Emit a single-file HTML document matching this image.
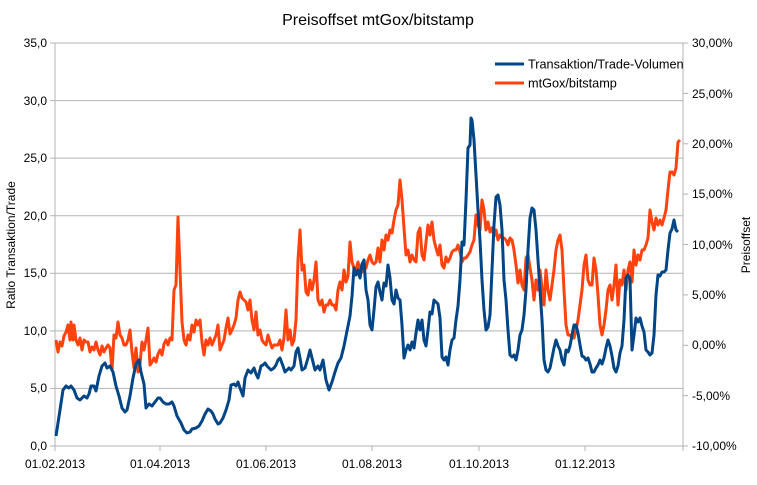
<!DOCTYPE html>
<html><head><meta charset="utf-8"><style>
body{margin:0;background:#fff}
svg text{font-family:"Liberation Sans",sans-serif;fill:#000}
</style></head><body>
<svg width="757" height="480" viewBox="0 0 757 480" xmlns="http://www.w3.org/2000/svg">
<rect width="757" height="480" fill="#fff"/>
<text x="378" y="25" font-size="16" text-anchor="middle">Preisoffset mtGox/bitstamp</text>
<g stroke="#b3b3b3" stroke-width="1">
<line x1="55" y1="43" x2="683" y2="43"/><line x1="55" y1="100.6" x2="683" y2="100.6"/>
<line x1="55" y1="158.1" x2="683" y2="158.1"/><line x1="55" y1="215.7" x2="683" y2="215.7"/>
<line x1="55" y1="273.3" x2="683" y2="273.3"/><line x1="55" y1="330.9" x2="683" y2="330.9"/>
<line x1="55" y1="388.4" x2="683" y2="388.4"/><line x1="55" y1="446" x2="683" y2="446"/>
<line x1="55" y1="43" x2="55" y2="451"/><line x1="683" y1="43" x2="683" y2="451"/>
<line x1="683" y1="43" x2="688" y2="43"/><line x1="683" y1="93.4" x2="688" y2="93.4"/><line x1="683" y1="143.8" x2="688" y2="143.8"/><line x1="683" y1="194.1" x2="688" y2="194.1"/><line x1="683" y1="244.5" x2="688" y2="244.5"/><line x1="683" y1="294.9" x2="688" y2="294.9"/><line x1="683" y1="345.3" x2="688" y2="345.3"/><line x1="683" y1="395.6" x2="688" y2="395.6"/><line x1="683" y1="446" x2="688" y2="446"/>
<line x1="50" y1="43" x2="55" y2="43"/><line x1="50" y1="100.6" x2="55" y2="100.6"/><line x1="50" y1="158.1" x2="55" y2="158.1"/><line x1="50" y1="215.7" x2="55" y2="215.7"/><line x1="50" y1="273.3" x2="55" y2="273.3"/><line x1="50" y1="330.9" x2="55" y2="330.9"/><line x1="50" y1="388.4" x2="55" y2="388.4"/><line x1="50" y1="446" x2="55" y2="446"/>
<line x1="160" y1="446" x2="160" y2="451"/><line x1="266" y1="446" x2="266" y2="451"/><line x1="372" y1="446" x2="372" y2="451"/><line x1="479" y1="446" x2="479" y2="451"/><line x1="585" y1="446" x2="585" y2="451"/>
</g>
<g font-size="12" text-anchor="end">
<text x="47" y="47">35,0</text><text x="47" y="105">30,0</text><text x="47" y="162">25,0</text><text x="47" y="220">20,0</text><text x="47" y="277">15,0</text><text x="47" y="335">10,0</text><text x="47" y="392">5,0</text><text x="47" y="450">0,0</text>
</g>
<g font-size="12">
<text x="692" y="47">30,00%</text><text x="692" y="98">25,00%</text><text x="692" y="148">20,00%</text><text x="692" y="198">15,00%</text><text x="692" y="249">10,00%</text><text x="692" y="299">5,00%</text><text x="692" y="349">0,00%</text><text x="692" y="400">-5,00%</text><text x="692" y="450">-10,00%</text>
</g>
<g font-size="12" text-anchor="middle">
<text x="55" y="468">01.02.2013</text><text x="160" y="468">01.04.2013</text><text x="266" y="468">01.06.2013</text><text x="372" y="468">01.08.2013</text><text x="479" y="468">01.10.2013</text><text x="585" y="468">01.12.2013</text>
</g>
<text font-size="12" transform="translate(15,245) rotate(-90)" text-anchor="middle">Ratio Transaktion/Trade</text>
<text font-size="12" transform="translate(750,245) rotate(-90)" text-anchor="middle">Preisoffset</text>
<polyline fill="none" stroke="#ff420e" stroke-width="3" stroke-linejoin="round" points="56,340 58,352 60,342 62,346 64,336 66,332 68,325 70,340 71,322 73,340 74,325 76,340 78,345 80,338 82,350 84,340 86,342 88,342 90,352 92,347 94,350 96,342 98,350 100,355 102,346 104,352 106,348 108,345 110,348 112,370 114,335 116,338 118,322 120,335 122,338 124,345 126,345 128,340 130,330 132,352 134,368 136,348 138,372 140,364 142,342 144,350 146,340 148,328 150,365 152,362 154,358 156,362 158,354 160,350 162,355 164,344 166,340 168,345 170,338 172,340 174,290 176,285 178,217 180,270 182,322 184,340 186,345 188,335 190,340 192,325 194,332 196,320 198,325 200,320 202,342 204,355 206,340 208,345 210,338 212,345 214,340 216,335 218,325 220,350 222,345 224,340 226,328 228,318 230,334 232,330 234,325 236,318 238,300 240,292 242,298 244,300 246,302 248,310 250,300 252,320 254,330 256,312 258,335 260,330 262,340 264,343 266,345 268,335 270,342 272,348 274,345 276,345 278,345 280,340 282,350 284,338 286,310 288,340 290,330 292,345 294,340 296,320 298,260 300,230 302,270 304,265 306,292 308,295 310,280 312,290 314,280 316,262 318,300 320,305 322,300 324,312 326,305 328,305 330,300 332,305 334,305 336,310 338,290 340,282 342,290 344,270 346,282 348,276 350,242 352,262 354,268 356,270 358,262 360,270 362,272 364,265 366,268 368,260 370,255 372,262 374,264 376,262 378,248 380,262 382,240 384,250 386,235 388,240 390,230 392,233 394,220 396,210 398,205 400,180 402,200 404,228 406,255 408,250 410,262 412,255 414,260 416,262 418,233 420,228 422,255 424,260 426,242 428,225 430,235 432,222 434,240 436,248 438,255 440,245 442,265 444,268 446,257 448,262 450,258 452,252 454,250 456,250 458,245 460,252 462,262 464,258 466,258 468,255 470,252 472,245 474,240 476,215 478,225 480,230 482,200 484,210 486,230 488,222 490,232 492,228 494,236 496,230 498,240 500,235 502,238 504,238 506,240 508,245 510,238 512,240 514,250 516,265 518,283 520,270 522,285 524,290 526,258 528,255 530,268 532,280 534,300 536,280 538,290 540,270 542,288 544,305 546,270 548,290 550,300 552,285 554,270 556,250 558,240 560,235 562,250 564,290 566,325 568,335 570,335 572,338 574,338 576,330 578,320 580,305 582,290 584,265 586,255 588,280 590,285 592,285 594,258 596,270 598,295 600,325 602,335 604,325 606,310 608,290 610,285 612,300 614,285 616,265 618,305 620,280 622,285 624,270 626,290 628,270 630,262 632,282 634,250 636,265 638,255 640,260 642,250 644,250 646,245 648,238 650,210 652,222 654,230 656,218 658,225 660,220 662,225 664,218 666,210 668,190 670,172 672,172 674,175 676,168 678,142 680,140"/>
<polyline fill="none" stroke="#004586" stroke-width="3" stroke-linejoin="round" points="56,436 60,410 63,390 66,386 69,388 71,386 74,390 77,398 80,400 84,396 87,398 89,394 91,386 94,386 96,391 99,376 102,366 105,363 107,368 110,366 113,372 116,386 119,396 122,408 125,412 127,410 130,396 133,378 136,364 139,360 141,372 144,384 146,408 149,404 152,406 155,402 158,398 160,398 163,402 166,404 169,404 172,402 174,406 177,416 181,423 184,430 187,433 190,432 192,429 196,428 199,426 202,421 205,414 208,409 211,411 213,414 215,419 218,424 220,423 223,418 226,410 229,400 231,385 234,384 236,386 238,382 240,388 243,396 245,378 248,370 251,373 254,368 256,374 258,378 261,366 263,365 265,363 267,366 269,368 271,370 274,368 276,365 278,360 280,358 283,366 285,372 287,370 289,368 291,370 294,366 296,352 298,348 300,358 302,370 305,368 308,358 310,350 313,362 315,370 318,366 320,370 323,360 326,380 329,390 332,382 335,372 338,363 341,358 344,346 346,336 348,326 350,316 352,296 354,268 356,275 358,270 360,278 362,264 364,260 366,290 368,300 370,325 372,330 374,310 376,287 378,282 380,292 382,300 384,283 386,286 388,265 390,278 392,300 394,304 396,290 398,298 400,300 402,325 404,358 406,350 408,345 410,350 412,342 414,348 416,333 418,320 420,330 422,320 424,340 426,346 428,330 430,312 432,314 434,300 436,302 438,304 440,318 442,357 444,360 446,357 448,365 450,350 452,340 454,338 456,320 458,306 460,280 462,242 464,245 466,200 468,148 470,145 471,118 472,120 474,140 476,175 478,210 480,240 482,280 484,310 486,330 488,327 490,315 492,270 494,225 496,197 498,195 500,205 502,230 504,280 506,300 508,330 510,355 512,357 514,355 516,360 518,350 520,335 522,330 524,315 526,290 528,250 530,218 532,208 534,210 536,230 538,260 540,290 542,320 544,360 546,370 548,372 550,368 552,358 554,348 556,340 558,346 560,350 562,360 564,365 566,350 568,352 570,346 572,335 574,325 576,325 578,333 580,345 582,356 584,357 586,360 588,358 590,364 592,372 594,372 596,368 598,365 600,360 602,364 604,358 606,348 608,340 610,346 612,356 614,368 616,372 618,366 620,353 622,346 624,320 626,278 628,275 630,279 632,350 634,335 636,318 638,322 640,318 642,326 644,332 646,350 648,352 650,355 652,353 654,335 656,295 658,275 660,276 662,272 664,272 666,270 668,250 670,233 672,229 674,220 676,230 678,232"/>
<line x1="495" y1="64" x2="524" y2="64" stroke="#004586" stroke-width="3"/>
<text x="528" y="68.5" font-size="12.7">Transaktion/Trade-Volumen</text>
<line x1="495" y1="83" x2="524" y2="83" stroke="#ff420e" stroke-width="3"/>
<text x="528" y="87.5" font-size="12.7">mtGox/bitstamp</text>
</svg>
</body></html>
